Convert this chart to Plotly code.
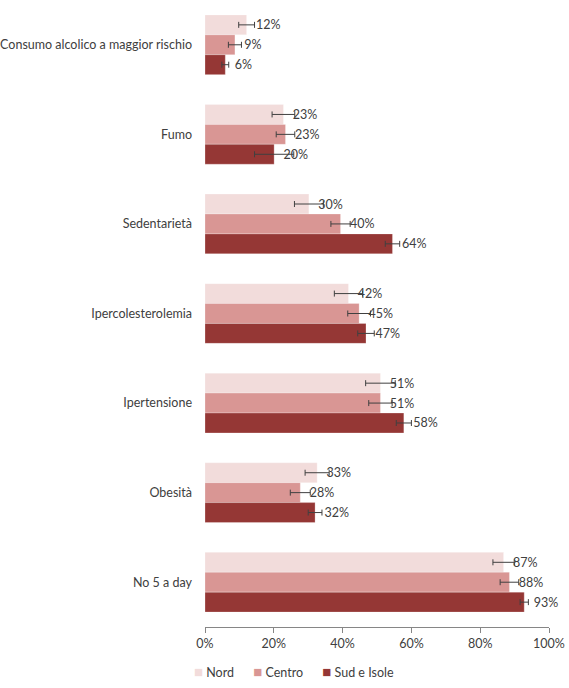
import plotly.graph_objects as go

# risk factors, top to bottom
categories = ["Consumo alcolico a maggior rischio", "Fumo", "Sedentarietà",
              "Ipercolesterolemia", "Ipertensione", "Obesità", "No 5 a day"]

# prevalence (%) and half-width of the confidence interval, per area
nord = [12.1, 22.8, 30.2, 41.7, 51.0, 32.6, 86.8]
nord_err = [2.3, 3.3, 4.2, 4.1, 4.3, 3.5, 3.1]
nord_lbl = ["12%", "23%", "30%", "42%", "51%", "33%", "87%"]

centro = [8.7, 23.4, 39.4, 44.8, 51.0, 27.7, 88.5]
centro_err = [1.9, 2.7, 2.8, 3.3, 3.4, 2.9, 2.7]
centro_lbl = ["9%", "23%", "40%", "45%", "51%", "28%", "88%"]

sud = [5.9, 20.1, 54.5, 46.8, 57.8, 32.0, 92.8]
sud_err = [1.0, 5.7, 2.1, 2.4, 2.2, 2.0, 1.2]
sud_lbl = ["6%", "20%", "64%", "47%", "58%", "32%", "93%"]

tick_vals = [0, 20, 40, 60, 80, 100]
tick_text = ["0%", "20%", "40%", "60%", "80%", "100%"]

series = [
    ("Nord", nord, nord_err, nord_lbl, "#F2DCDB"),
    ("Centro", centro, centro_err, centro_lbl, "#D99694"),
    ("Sud e Isole", sud, sud_err, sud_lbl, "#953735"),
]

fig = go.Figure()
for name, vals, errs, lbls, col in series:
    fig.add_trace(go.Bar(
        name=name, y=categories, x=vals, orientation="h",
        marker=dict(color=col, line=dict(color="rgba(255,255,255,0.5)", width=0.5)),
        error_x=dict(type="data", array=errs, color="#404040", thickness=1, width=3),
        text=["\u00a0\u00a0" + t for t in lbls], textposition="outside", cliponaxis=False,
        textfont=dict(size=12.5, color="#404040"),
        showlegend=False,
    ))

# compact Excel-like legend: coloured squares followed by the series names
legend_txt = "\u00a0" * 6
legend_txt = legend_txt.join(
    f"<span style='color:{col};font-size:15px'>■</span> {name}"
    for name, _, _, _, col in series
)
fig.add_annotation(text=legend_txt, xref="paper", yref="paper", x=-0.037, y=-0.053,
                   xanchor="left", yanchor="top", showarrow=False,
                   font=dict(size=12.5, color="#404040"))

fig.update_layout(
    width=569, height=688,
    margin=dict(l=205, r=20, t=0, b=61),
    barmode="group", bargap=0.333, bargroupgap=0,
    paper_bgcolor="white", plot_bgcolor="white",
    font=dict(family="Lato", size=12.5, color="#404040"),
    uniformtext=dict(minsize=12, mode="show"),
)
fig.update_xaxes(range=[0, 100], tickvals=tick_vals, ticktext=tick_text,
                 showgrid=False, zeroline=False, showline=True, linecolor="#868686",
                 ticks="outside", ticklen=5, tickcolor="#868686",
                 tickfont=dict(size=12.5))
fig.update_yaxes(autorange="reversed", showgrid=False, showline=False,
                 ticks="", ticklabelstandoff=12)

fig.write_html("out.html", config={"displayModeBar": False},
               post_script="document.body.style.margin='0';")
